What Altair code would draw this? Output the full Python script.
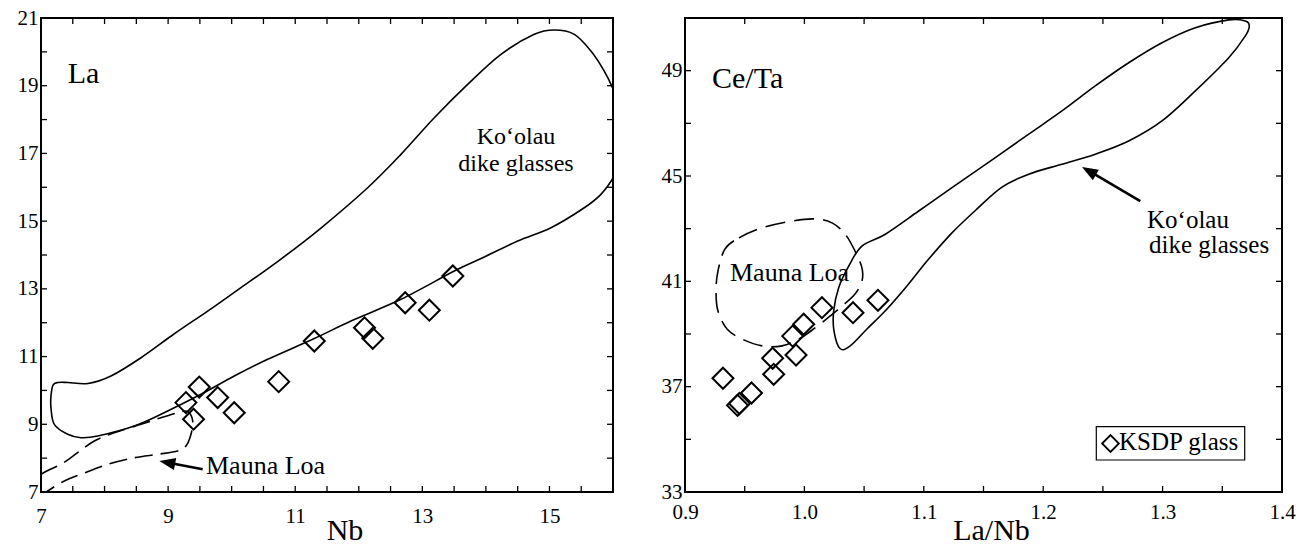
import altair as alt
import pandas as pd

# ---------------- data ----------------
# Left panel: KSDP glasses, Nb vs La
ksdp_nb = [9.28, 9.49, 9.40, 9.78, 10.04, 10.74, 11.30, 12.09, 12.22, 12.73, 13.11, 13.48]
ksdp_la = [9.64, 10.10, 9.15, 9.79, 9.34, 10.26, 11.46, 11.85, 11.54, 12.59, 12.37, 13.38]

# Ko'olau dike glass field outline (left panel)
koolau_nb = [7.157, 7.189, 7.267, 7.425, 7.739, 8.101, 8.573, 9.092, 9.623, 10.146, 10.776,
             11.405, 12.14, 12.664, 13.188, 13.713, 14.237, 14.761, 15.076, 15.391,
             15.653, 15.862, 16.004, 16.094, 16.157, 16.125, 16.004, 15.81, 15.548, 15.024,
             14.5, 13.975, 13.503, 12.664, 11.877, 11.3, 10.567, 10.041, 9.517, 8.993, 8.468,
             7.892, 7.629, 7.42, 7.209, 7.157]
koolau_la = [9.835, 10.16, 10.234, 10.234, 10.204, 10.426, 10.966, 11.666, 12.345, 13.034, 13.881,
             14.797, 15.987, 16.973, 18.054, 19.041, 19.927, 20.517, 20.644, 20.517,
             20.024, 19.433, 18.893, 18.397, 17.659, 16.773, 16.282, 15.792, 15.396, 14.806,
             14.413, 13.94, 13.527, 12.691, 12.05, 11.533, 10.919, 10.426, 9.885, 9.392, 8.949,
             8.654, 8.604, 8.704, 8.999, 9.49]

# Mauna Loa field outline (left panel)
mauna_nb = [6.7, 7.0, 7.315, 7.577, 7.839, 8.153, 8.573, 8.888, 9.151, 9.308, 9.387, 9.36,
            9.281, 9.151, 8.836, 8.468, 8.049, 7.629, 7.367, 7.105, 6.9]
mauna_la = [7.0, 7.52, 7.818, 8.161, 8.506, 8.751, 8.999, 9.194, 9.342, 9.377, 9.097, 8.704,
            8.359, 8.211, 8.113, 8.013, 7.818, 7.523, 7.325, 7.03, 6.75]

# Right panel: KSDP glasses, La/Nb vs Ce/Ta
ksdp_lanb = [0.9318, 0.944, 0.9456, 0.9557, 0.9743, 0.9734, 0.993, 0.9902, 0.9994, 1.0147, 1.0407, 1.0616]
ksdp_ceta = [37.32, 36.29, 36.36, 36.76, 37.47, 38.08, 38.20, 38.92, 39.37, 40.0, 39.81, 40.28]

koolau_lanb = [1.0298, 1.0248, 1.0245, 1.0287, 1.0371, 1.0482, 1.0678, 1.0957, 1.1236, 1.1599,
               1.1879, 1.2157, 1.2436, 1.2716, 1.2995, 1.3274, 1.3554, 1.3693, 1.3726, 1.3693,
               1.3554, 1.3274, 1.2995, 1.2716, 1.2436, 1.2157, 1.1879, 1.1655, 1.1446, 1.1236,
               1.1027, 1.0859, 1.0692, 1.0524, 1.0381]
koolau_ceta = [38.45, 39.11, 39.87, 40.76, 41.58, 42.34, 42.79, 43.67, 44.56, 45.70,
               46.59, 47.47, 48.42, 49.30, 50.06, 50.63, 50.93, 50.89, 50.70, 50.32,
               49.49, 48.23, 47.09, 46.33, 45.83, 45.45, 45.07, 44.58, 43.75, 42.84,
               41.77, 40.82, 39.95, 39.19, 38.54]

mauna_lanb = [0.9335, 0.9452, 0.9645, 0.9896, 1.0089, 1.0231, 1.034, 1.0424, 1.0482, 1.0482,
              1.0424, 1.0315, 1.0214, 1.0089, 0.9955, 0.9812, 0.9645, 0.9477, 0.9352, 0.9276,
              0.926, 0.9276]
mauna_ceta = [42.23, 42.65, 43.03, 43.29, 43.37, 43.22, 42.80, 42.15, 41.51, 41.01,
              40.52, 40.06, 39.68, 39.23, 38.81, 38.55, 38.55, 38.81, 39.19, 39.87,
              40.63, 41.39]

# Arrows (tail -> head) in data units
arrow_left_x = [9.544, 8.986]
arrow_left_y = [7.670, 7.871]
arrow_right_x = [1.2813, 1.2383]
arrow_right_y = [44.05, 45.19]

# Axis tick labels and minor ticks
left_x_labels = [7, 9, 11, 13, 15]
left_y_labels = [7, 9, 11, 13, 15, 17, 19, 21]
left_x_ticks = [7.5, 8, 8.5, 9, 9.5, 10, 10.5, 11, 11.5, 12, 12.5, 13, 13.5, 14, 14.5, 15, 15.5]
left_y_ticks = [8, 9, 10, 11, 12, 13, 14, 15, 16, 17, 18, 19, 20]
right_x_labels = [0.9, 1.0, 1.1, 1.2, 1.3, 1.4]
right_y_labels = [33, 37, 41, 45, 49]
right_x_ticks = [0.95, 1.0, 1.05, 1.1, 1.15, 1.2, 1.25, 1.3, 1.35]
right_y_ticks = [35, 37, 39, 41, 43, 45, 47, 49]

# Texts
left_var = ["La"]
right_var = ["Ce/Ta"]
koolau_text = ["Ko\u2018olau", "dike glasses"]
mauna_text = ["Mauna Loa"]
legend_text = ["KSDP glass"]

FONT = "Liberation Serif, Times New Roman, Times, DejaVu Serif, serif"
W1, W2, H = 572, 597, 474
TL = 6  # tick length


def df_xy(xs, ys):
    return pd.DataFrame({"x": xs, "y": ys, "i": list(range(len(xs)))})


def panel(W, xdom, ydom, xlab, ylab, xfmt, xticks, yticks, xtitle, title_x, title_y, lab_pad,
          pts, koolau, mauna, arrow, arrow_angle, dash):
    xs = alt.Scale(domain=xdom, nice=False, zero=False)
    ys = alt.Scale(domain=ydom, nice=False, zero=False)
    X = alt.X("x:Q", scale=xs, axis=alt.Axis(
        values=xlab, format=xfmt, title=xtitle, labelPadding=lab_pad, labelBaseline="top",
        titleX=title_x, titleY=title_y, titleAlign="center", titleBaseline="alphabetic",
        titleFontSize=30, titleFont=FONT, titleFontWeight="normal", labelFlush=False))
    Y = alt.Y("y:Q", scale=ys, axis=alt.Axis(
        values=ylab, title=None, labelPadding=3, labelBaseline="middle"))

    tx = pd.DataFrame({"x": xticks})
    ty = pd.DataFrame({"y": yticks})
    rule = dict(color="black", strokeWidth=1.3)
    t_top = alt.Chart(tx).mark_rule(**rule).encode(x=X, y=alt.value(0), y2=alt.value(TL))
    t_bot = alt.Chart(tx).mark_rule(**rule).encode(x=X, y=alt.value(H - TL), y2=alt.value(H))
    t_left = alt.Chart(ty).mark_rule(**rule).encode(y=Y, x=alt.value(0), x2=alt.value(TL))
    t_right = alt.Chart(ty).mark_rule(**rule).encode(y=Y, x=alt.value(W - TL), x2=alt.value(W))

    k = alt.Chart(koolau).mark_line(interpolate="cardinal-closed", color="black",
                                    strokeWidth=1.6, clip=True).encode(
        x=X, y=Y, order=alt.Order("i:Q"))
    m = alt.Chart(mauna).mark_line(interpolate="cardinal-closed", color="black",
                                   strokeWidth=1.6, strokeDash=dash, clip=True).encode(
        x=X, y=Y, order=alt.Order("i:Q"))
    p = alt.Chart(pts).mark_point(shape="diamond", filled=False, color="black",
                                  strokeWidth=2, size=440, opacity=1).encode(x=X, y=Y)
    shaft = alt.Chart(arrow).mark_line(color="black", strokeWidth=2.6).encode(
        x=X, y=Y, order=alt.Order("i:Q"))
    head = alt.Chart(arrow.iloc[[1]]).mark_point(
        shape="M0,-1L0.75,1L-0.75,1Z", filled=True, color="black", size=256, opacity=1,
        angle=arrow_angle).encode(x=X, y=Y)
    return [t_top, t_bot, t_left, t_right, k, m, shaft, head, p]


def text_layer(lines, xpx, ypx, size, align="left"):
    d = pd.DataFrame({"t": lines, "x": xpx, "y": ypx})
    return alt.Chart(d).mark_text(font=FONT, fontSize=size, align=align,
                                  baseline="alphabetic", color="black").encode(
        text="t:N", x=alt.X("x:Q", scale=None), y=alt.Y("y:Q", scale=None))


left_layers = panel(
    W1, [7, 16], [7, 21], left_x_labels, left_y_labels, "d", left_x_ticks, left_y_ticks,
    "Nb", 303.5, 47, 13,
    df_xy(ksdp_nb, ksdp_la), df_xy(koolau_nb, koolau_la), df_xy(mauna_nb, mauna_la),
    df_xy(arrow_left_x, arrow_left_y), 280.8, [18, 8])
left_layers += [
    text_layer(left_var, [26.7], [64.7], 30),
    text_layer(koolau_text, [475, 475], [126, 153], 24, align="center"),
    text_layer(mauna_text, [165], [456.3], 26),
]
left = alt.layer(*left_layers).properties(width=W1, height=H)

right_layers = panel(
    W2, [0.9, 1.4], [33, 51], right_x_labels, right_y_labels, ".1f", right_x_ticks, right_y_ticks,
    "La/Nb", 306, 47, 9,
    df_xy(ksdp_lanb, ksdp_ceta), df_xy(koolau_lanb, koolau_ceta), df_xy(mauna_lanb, mauna_ceta),
    df_xy(arrow_right_x, arrow_right_y), 300.3, [20, 9])

legend_box = alt.Chart(pd.DataFrame({"k": [0]})).mark_rect(
    fill="white", stroke="black", strokeWidth=1.2).encode(
    x=alt.value(411.3), x2=alt.value(559.7), y=alt.value(408.7), y2=alt.value(442))
legend_sym = alt.Chart(pd.DataFrame({"k": [0]})).mark_point(
    shape="diamond", filled=False, color="black", strokeWidth=1.8, size=280, opacity=1).encode(
    x=alt.value(425.5), y=alt.value(425.5))

right_layers += [
    text_layer(right_var, [27], [70], 30),
    text_layer(mauna_text, [45], [263], 26),
    text_layer(koolau_text, [462, 464], [210, 235], 25),
    legend_box, legend_sym,
    text_layer(legend_text, [434], [432.3], 25),
]
right = alt.layer(*right_layers).properties(width=W2, height=H)

chart = alt.hconcat(left, right, spacing=45).properties(
    padding={"left": 16, "top": 6, "right": 0, "bottom": 0},
    background="white",
).configure_view(
    stroke="black", strokeWidth=2
).configure_axis(
    domain=False, ticks=False, tickSize=0, grid=False,
    labelFont=FONT, labelFontSize=21, labelColor="black",
    titleFont=FONT, titleColor="black",
)

chart.save("out.html", embed_options={"renderer": "svg", "actions": False})
